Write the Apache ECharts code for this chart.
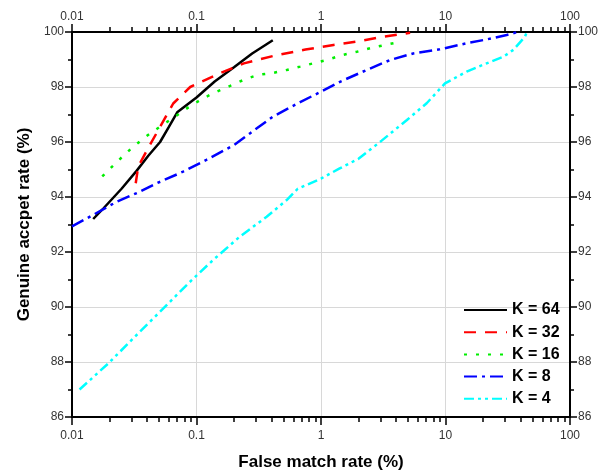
<!DOCTYPE html>
<html>
<head>
<meta charset="utf-8">
<script src="https://cdn.jsdelivr.net/npm/echarts@6/dist/echarts.min.js"></script>
<style>
html,body{margin:0;padding:0;background:#fff;}
#c{width:605px;height:475px;}
</style>
</head>
<body>
<div id="c"></div>
<script>
// ---- data ----
var seriesNames = ['K = 64', 'K = 32', 'K = 16', 'K = 8', 'K = 4'];
var k64 = [[0.0148,93.2],[0.018,93.6],[0.025,94.3],[0.033,94.95],[0.041,95.5],[0.051,96.0],[0.06,96.55],[0.07,97.08],[0.1,97.62],[0.14,98.2],[0.2,98.72],[0.28,99.22],[0.41,99.7]];
var k32 = [[0.0325,94.5],[0.034,95.1],[0.04,95.7],[0.051,96.55],[0.065,97.4],[0.089,98.0],[0.154,98.5],[0.24,98.86],[0.44,99.16],[0.75,99.36],[1.26,99.53],[1.94,99.65],[3.0,99.81],[5.2,99.97]];
var k16 = [[0.0175,94.75],[0.023,95.28],[0.03,95.77],[0.039,96.19],[0.051,96.56],[0.067,96.92],[0.086,97.26],[0.113,97.59],[0.145,97.83],[0.186,98.04],[0.245,98.28],[0.31,98.44],[0.4,98.5],[0.53,98.62],[0.68,98.74],[0.9,98.88],[1.15,99.0],[1.47,99.16],[1.94,99.28],[2.48,99.41],[3.27,99.53],[4.3,99.64]];
var k8 = [[0.01,92.93],[0.0148,93.35],[0.0229,93.83],[0.035,94.19],[0.048,94.5],[0.078,94.92],[0.12,95.35],[0.2,95.89],[0.27,96.32],[0.41,96.92],[0.68,97.45],[1.0,97.83],[1.42,98.19],[2.33,98.62],[3.58,98.98],[5.5,99.22],[9.0,99.37],[14.8,99.59],[21.4,99.73],[31,99.89],[38,100]];
var k4 = [[0.0115,87.0],[0.0196,87.95],[0.032,88.92],[0.051,89.83],[0.086,90.86],[0.136,91.71],[0.223,92.56],[0.366,93.28],[0.53,93.89],[0.65,94.3],[1.0,94.67],[1.4,95.03],[2.0,95.39],[3.07,96.05],[4.9,96.8],[7.06,97.41],[9.9,98.13],[14.8,98.56],[21.4,98.86],[29.2,99.1],[35.1,99.35],[43.5,99.83],[45,100]];
var minorXTicks = [0.02,0.03,0.04,0.05,0.06,0.07,0.08,0.09,0.2,0.3,0.4,0.5,0.6,0.7,0.8,0.9,2,3,4,5,6,7,8,9,20,30,40,50,60,70,80,90];

var colors = ['#000000', '#ff0000', '#00ee00', '#0000ff', '#00ffff'];
var dashes = ['solid', [12, 9], [3, 9], [13, 5, 3, 5], [10, 4, 3, 4, 3, 4]];
var allData = [k64, k32, k16, k8, k4];

var font = 'Arial, "Liberation Sans", sans-serif';
var axisLineStyle = {color: '#000', width: 2};
var tickStyle = {color: '#000', width: 1.5};

function xAx(pos, major) {
  var a = {
    type: 'log', logBase: 10, min: 0.01, max: 100, position: pos,
    axisLine: {show: major, onZero: false, lineStyle: axisLineStyle},
    splitLine: {show: false},
    axisLabel: {show: major, fontSize: 12, color: '#333', fontFamily: font, margin: pos === 'bottom' ? 13 : 9},
    axisTick: {show: true, length: major ? 8 : 5, lineStyle: tickStyle}
  };
  if (!major) a.axisTick.customValues = minorXTicks;
  return a;
}
var xAxes = [xAx('bottom', true), xAx('top', true), xAx('bottom', false), xAx('top', false)];
xAxes[0].splitLine = {show: true, lineStyle: {color: '#d8d8d8', width: 1}};
xAxes[0].name = 'False match rate (%)';
xAxes[0].nameLocation = 'middle';
xAxes[0].nameGap = 37;
xAxes[0].nameTextStyle = {fontWeight: 'bold', fontSize: 17, color: '#000', fontFamily: font};

function yAx(pos) {
  return {
    type: 'value', min: 86, max: 100, interval: 2, position: pos,
    axisLine: {show: true, onZero: false, lineStyle: axisLineStyle},
    axisTick: {show: true, length: 7, lineStyle: tickStyle},
    minorTick: {show: true, splitNumber: 2, length: 4, lineStyle: tickStyle},
    splitLine: {show: false},
    axisLabel: {fontSize: 12, color: '#333', fontFamily: font, margin: 8}
  };
}
var yAxes = [yAx('left'), yAx('right')];
yAxes[0].splitLine = {show: true, lineStyle: {color: '#d8d8d8', width: 1}};
yAxes[0].name = 'Genuine accpet rate (%)';
yAxes[0].nameLocation = 'middle';
yAxes[0].nameGap = 39;
yAxes[0].nameRotate = 90;
yAxes[0].nameTextStyle = {fontWeight: 'bold', fontSize: 17, color: '#000', fontFamily: font};

var series = allData.map(function (d, i) {
  return {
    name: seriesNames[i], type: 'line', data: d, xAxisIndex: 0, yAxisIndex: 0,
    showSymbol: false, symbol: 'none', smooth: false, clip: true,
    lineStyle: {color: colors[i], width: 2.5, type: dashes[i]},
    itemStyle: {color: colors[i]}
  };
});

var chart = echarts.init(document.getElementById('c'), null, {renderer: 'canvas'});
chart.setOption({
  animation: false,
  backgroundColor: '#fff',
  grid: {left: 72, right: 35, top: 32, bottom: 58, containLabel: false, outerBoundsMode: 'none'},
  legend: {
    data: seriesNames, orient: 'vertical', left: 458, top: 297,
    itemWidth: 43, itemHeight: 14, itemGap: 6.2,
    itemStyle: {opacity: 0},
    textStyle: {fontWeight: 'bold', fontSize: 16, lineHeight: 16, color: '#000', fontFamily: font}
  },
  xAxis: xAxes,
  yAxis: yAxes,
  series: series
});
</script>
</body>
</html>
